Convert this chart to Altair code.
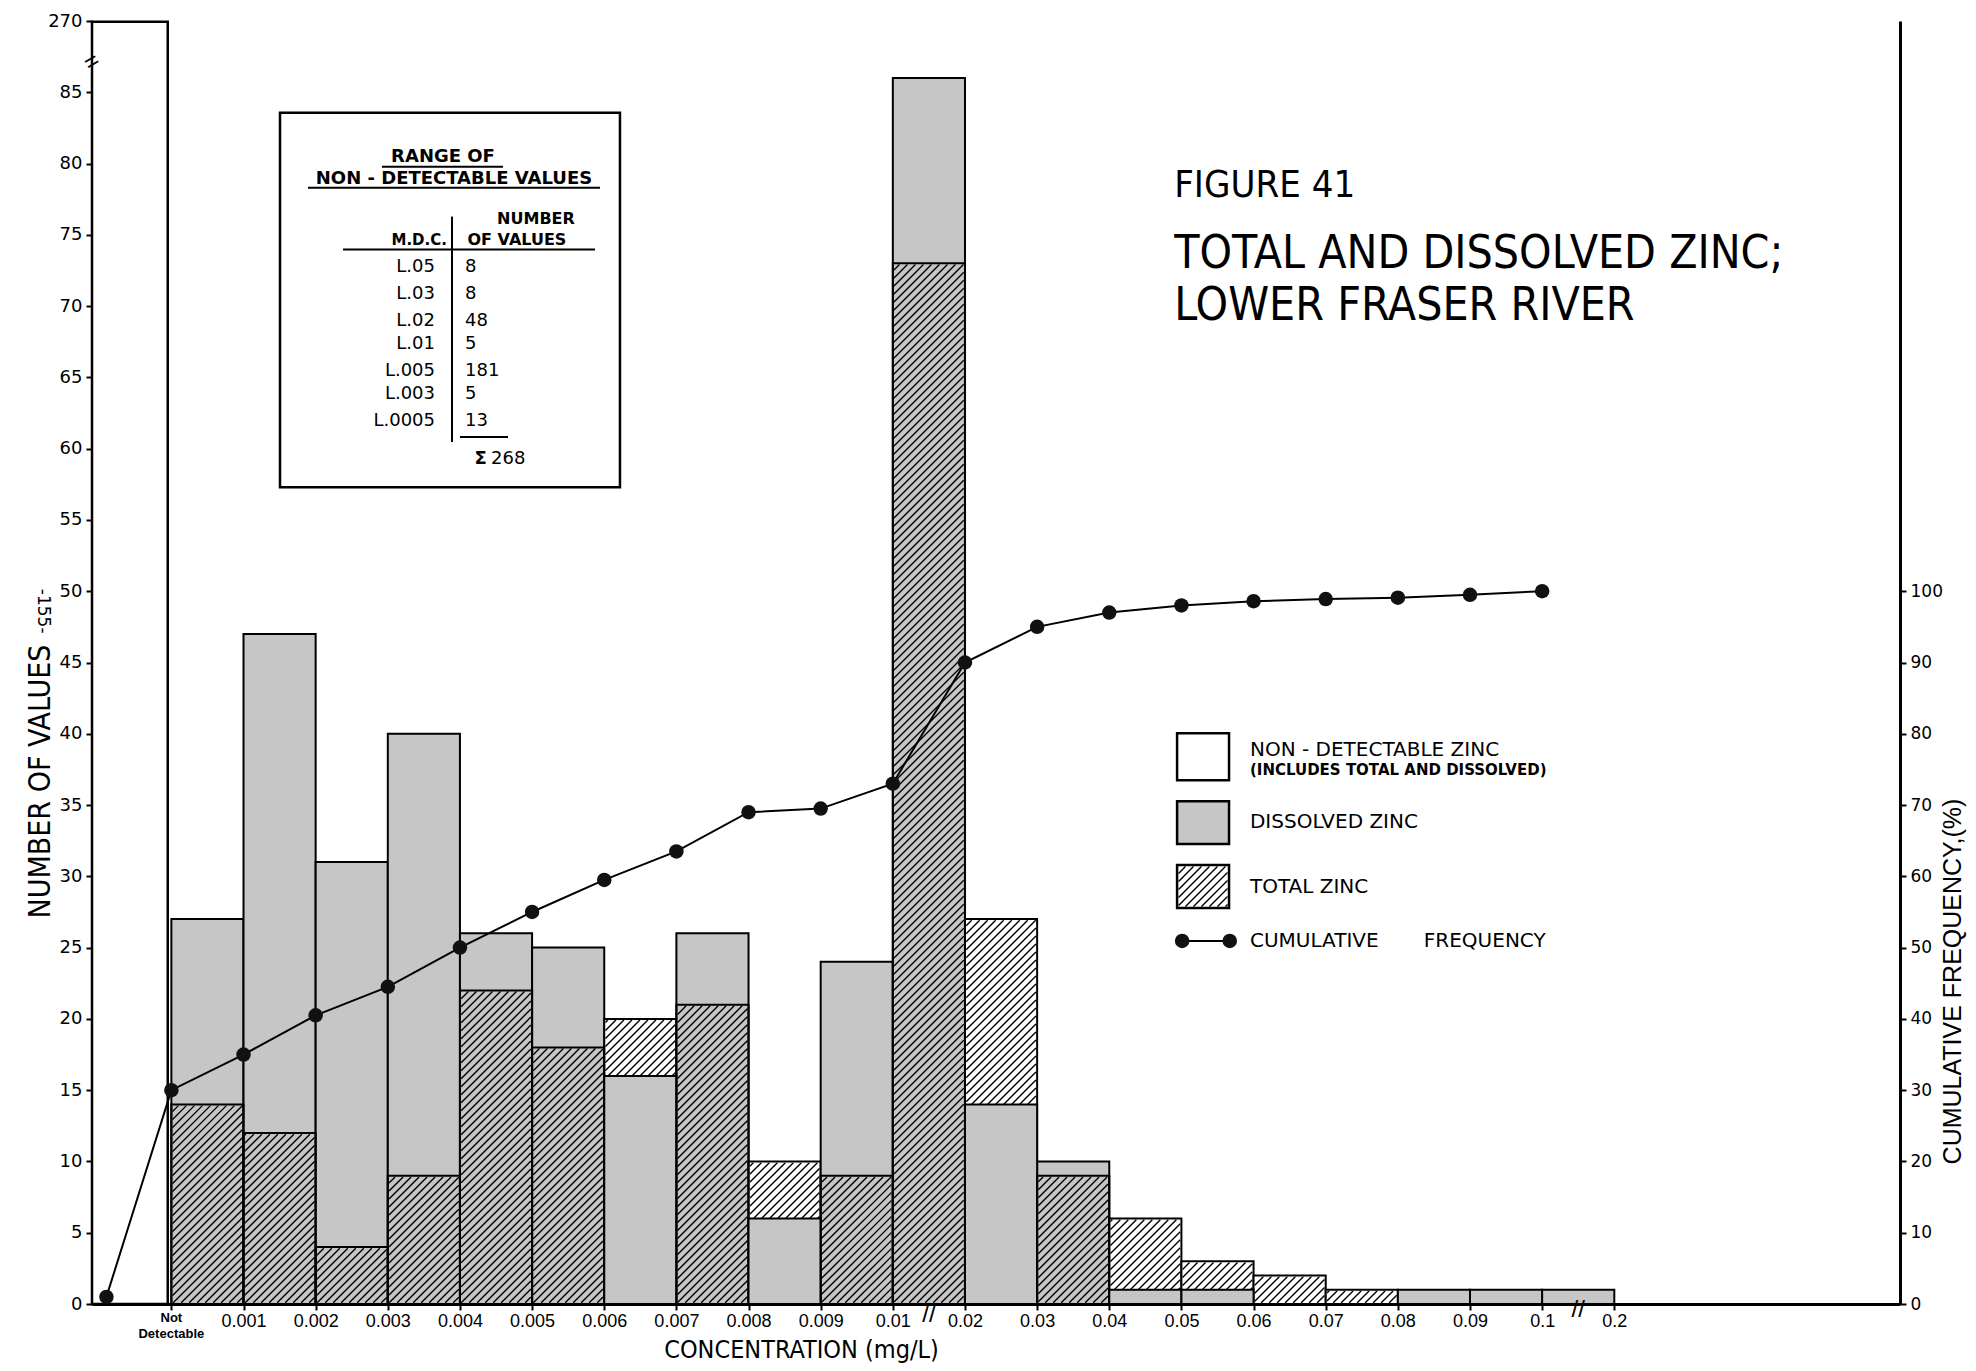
import altair as alt
import pandas as pd
import numpy as np

# ---------------- data ----------------
tick_labels = ["Not Detectable", "0.001", "0.002", "0.003", "0.004", "0.005", "0.006",
               "0.007", "0.008", "0.009", "0.01", "0.02", "0.03", "0.04", "0.05", "0.06",
               "0.07", "0.08", "0.09", "0.1", "0.2"]
dissolved = [27, 47, 31, 40, 26, 25, 16, 26, 6, 24, 86, 14, 10, 1, 1, 0, 0, 1, 1, 1]
total = [14, 12, 4, 9, 22, 18, 20, 21, 10, 9, 73, 27, 9, 6, 3, 2, 1, 0, 0, 0]
nd_count = 268
cum_pos = [-0.9, 0, 1, 2, 3, 4, 5, 6, 7, 8, 9, 10, 11, 12, 13, 14, 15, 16, 17, 18, 19]
cum_pct = [1, 30, 35, 40.5, 44.5, 50, 55, 59.5, 63.5, 69, 69.5, 73, 90, 95, 97, 98,
           98.6, 98.9, 99.1, 99.5, 100]
mdc_levels = ["L.05", "L.03", "L.02", "L.01", "L.005", "L.003", "L.0005"]
mdc_counts = [8, 8, 48, 5, 181, 5, 13]

# ---------------- layout ----------------
XMIN, XMAX = -1.1, 23.96
YTOP = 90
W, H = 1808, 1283
GREY = "#c6c6c6"
NARROW = "Liberation Sans Narrow, DejaVu Sans Condensed, Liberation Sans, sans-serif"
SANS = "Liberation Sans, Arial, sans-serif"
DJ = "DejaVu Sans, Verdana, sans-serif"

xs = alt.Scale(domain=[XMIN, XMAX], nice=False, zero=False)
ys = alt.Scale(domain=[0, YTOP], nice=False, zero=False)
yr = alt.Scale(domain=[0, 2 * YTOP], nice=False, zero=False)

sx = W / (XMAX - XMIN)
sy = H / YTOP
SP = 8.0


def hatch(x0, x1, y0, y1, inset=1.2):
    X0 = (x0 - XMIN) * sx + inset
    X1 = (x1 - XMIN) * sx - inset
    Y0 = y0 * sy + inset
    Y1 = y1 * sy - inset
    segs = []
    kmin = int(np.floor((Y0 - X1) / SP))
    kmax = int(np.ceil((Y1 - X0) / SP))
    for k in range(kmin, kmax + 1):
        c = k * SP
        xa = max(X0, Y0 - c)
        xb = min(X1, Y1 - c)
        if xb - xa > 0.8:
            segs.append(dict(x=xa / sx + XMIN, y=(xa + c) / sy,
                             x2=xb / sx + XMIN, y2=(xb + c) / sy))
    return segs


# bar table
rows = []
for k, (d, t) in enumerate(zip(dissolved, total)):
    for kind, v, other in (("dissolved", d, t), ("total", t, d)):
        if v <= 0:
            continue
        front = v < other or (v == other and kind == "total")
        rows.append(dict(x0=k, x1=k + 1, v=v, kind=kind, front=front))
bars = pd.DataFrame(rows)

hatch_back, hatch_front = [], []
for r in rows:
    if r["kind"] == "total":
        (hatch_front if r["front"] else hatch_back).extend(hatch(r["x0"], r["x1"], 0, r["v"]))

x_axis = alt.Axis(
    values=list(range(len(tick_labels))),
    labelExpr="[" + ",".join("'" + ("" if i == 0 else s) + "'" for i, s in enumerate(tick_labels)) + "][datum.value]",
    title="CONCENTRATION (mg/L)", titleX=709, titleY=45, titleAlign="center", titleBaseline="middle",
    titleFont=NARROW, titleFontSize=25, titleFontWeight="normal", titleColor="black",
    labelFont=SANS, labelFontSize=18, labelColor="black", labelPadding=2,
    tickSize=6, tickWidth=2, tickColor="black", domainColor="black", domainWidth=3,
    grid=False, labelOverlap=False, labelFlush=False, labelBound=False)


def X(f, **kw):
    return alt.X(f, type="quantitative", scale=xs, axis=x_axis, **kw)


def Y(f, **kw):
    return alt.Y(f, type="quantitative", scale=ys, axis=None, **kw)


y_axis = alt.Axis(
    values=list(range(0, 90, 5)) + [90],
    labelExpr="datum.value == 90 ? '270' : datum.label",
    title="NUMBER OF VALUES", titleAngle=270, titleX=-52, titleY=760, titleAlign="center",
    titleBaseline="middle", titleFont=NARROW, titleFontSize=30, titleFontWeight="normal",
    titleColor="black", labelFont=DJ, labelFontSize=18, labelColor="black", labelPadding=4,
    tickSize=6, tickWidth=2, tickColor="black", domainColor="black", domainWidth=3,
    grid=False, labelFlush=False, labelOverlap=False)

r_axis = alt.Axis(
    orient="right", values=list(range(0, 101, 10)),
    title="CUMULATIVE FREQUENCY,(%)", titleAngle=270, titleX=52, titleY=960, titleAlign="center",
    titleBaseline="middle", titleFont=SANS, titleFontSize=25, titleFontWeight="normal",
    titleColor="black", labelFont=DJ, labelFontSize=17, labelColor="black", labelPadding=4,
    tickSize=6, tickWidth=2, tickColor="black", domainColor="black", domainWidth=3,
    grid=False, labelFlush=False, labelOverlap=False)

# non-detectable bar (broken scale above 85: 85 -> 85, 270 -> 90)
nd_df = pd.DataFrame({"x0": [XMIN], "x1": [-0.05], "v": [nd_count]})
nd_layer = alt.Chart(nd_df).transform_calculate(
    vd="datum.v > 85 ? 85 + (datum.v - 85) * 5 / 185 : datum.v"
).mark_rect(fill="white", stroke="black", strokeWidth=2.5).encode(
    x=X("x0"), x2="x1",
    y=alt.Y("vd:Q", scale=ys, axis=y_axis), y2=alt.datum(0))


def bar_layer(front):
    fill_else = "transparent" if front else "white"
    return alt.Chart(bars).transform_filter(
        "datum.front == " + ("true" if front else "false")
    ).mark_rect(stroke="black", strokeWidth=2).encode(
        x=X("x0"), x2="x1", y=Y("v"), y2=alt.datum(0),
        fill=alt.condition("datum.kind == 'dissolved'", alt.value(GREY), alt.value(fill_else)))


def hatch_layer(segs):
    df = pd.DataFrame(segs if segs else [dict(x=0, y=0, x2=0, y2=0)])
    return alt.Chart(df).mark_rule(color="black", strokeWidth=1.4).encode(
        x=X("x"), y=Y("y"), x2="x2", y2="y2")


cum_df = pd.DataFrame({"x": cum_pos, "pct": cum_pct})
cum_line = alt.Chart(cum_df).mark_line(color="black", strokeWidth=2).encode(
    x=X("x"), y=alt.Y("pct:Q", scale=yr, axis=r_axis))
cum_pts = alt.Chart(cum_df).mark_point(filled=True, color="#111111", size=210, opacity=1).encode(
    x=X("x"), y=alt.Y("pct:Q", scale=yr, axis=None))


def texts(rows_, font, align="left", baseline="middle", weight="normal", angle=0, **kw):
    df = pd.DataFrame(rows_, columns=["x", "y", "t", "fs"])
    return alt.Chart(df).mark_text(font=font, align=align, baseline=baseline, fontWeight=weight,
                                   angle=angle, color="black", **kw).encode(
        x=X("x"), y=Y("y"), text="t:N", size=alt.Size("fs:Q", scale=None, legend=None))


# titles
title_layer = texts([(13.90, 78.4, "FIGURE 41", 38),
                     (13.90, 73.65, "TOTAL AND DISSOLVED ZINC;", 46),
                     (13.90, 70.0, "LOWER FRASER RIVER", 46)], NARROW)

# legend
leg_boxes = pd.DataFrame({
    "x0": [13.94, 13.94, 13.94], "x1": [14.66, 14.66, 14.66],
    "y0": [36.74, 32.26, 27.78], "y1": [40.03, 35.27, 30.79],
    "kind": ["nd", "dissolved", "total"]})
leg_box_layer = alt.Chart(leg_boxes).mark_rect(stroke="black", strokeWidth=2.5).encode(
    x=X("x0"), x2="x1", y=Y("y0"), y2="y1",
    fill=alt.condition("datum.kind == 'dissolved'", alt.value(GREY), alt.value("white")))
leg_hatch = hatch_layer(hatch(13.94, 14.66, 27.78, 30.79, inset=1.5))
leg_line_df = pd.DataFrame({"x": [14.01, 14.67], "y": [25.47, 25.47]})
leg_line = alt.Chart(leg_line_df).mark_line(color="black", strokeWidth=2).encode(x=X("x"), y=Y("y"))
leg_pts = alt.Chart(leg_line_df).mark_point(filled=True, color="#111111", size=210, opacity=1).encode(
    x=X("x"), y=Y("y"))
leg_text = texts([(14.95, 38.85, "NON - DETECTABLE  ZINC", 20),
                  (14.95, 33.80, "DISSOLVED  ZINC", 20),
                  (14.95, 29.25, "TOTAL  ZINC", 20),
                  (14.95, 25.47, "CUMULATIVE", 20),
                  (17.36, 25.47, "FREQUENCY", 20)], DJ)
leg_text2 = texts([(14.95, 37.45, "(INCLUDES  TOTAL  AND  DISSOLVED)", 15)], DJ, weight="bold")

# table of non-detectable ranges
table_box = alt.Chart(pd.DataFrame({"x0": [1.506], "x1": [6.218], "y0": [57.3], "y1": [83.56]})).mark_rect(
    fill="white", stroke="black", strokeWidth=2.5).encode(x=X("x0"), x2="x1", y=Y("y0"), y2="y1")
table_rules = alt.Chart(pd.DataFrame({
    "x": [2.919, 1.894, 2.379, 3.890, 4.000],
    "x2": [4.596, 5.941, 5.872, 3.890, 4.666],
    "y": [79.78, 78.31, 73.97, 76.28, 60.82],
    "y2": [79.78, 78.31, 73.97, 60.47, 60.82]})).mark_rule(color="black", strokeWidth=2).encode(
    x=X("x"), x2="x2", y=Y("y"), y2="y2")
row_y = [72.71, 70.82, 68.93, 67.32, 65.43, 63.82, 61.94]
table_head = texts([(3.765, 80.48, "RANGE  OF", 18),
                    (3.917, 78.94, "NON - DETECTABLE  VALUES", 18)], DJ, align="center", weight="bold")
table_head2 = texts([(5.054, 76.14, "NUMBER", 16),
                     (4.79, 74.67, "OF VALUES", 16)], DJ, align="center", weight="bold")
table_head3 = texts([(3.82, 74.67, "M.D.C.", 15)], DJ, align="right", weight="bold")
table_lv = texts([(3.654, yy, lv, 18) for yy, lv in zip(row_y, mdc_levels)], DJ, align="right")
table_ct = texts([(4.07, yy, str(c), 18) for yy, c in zip(row_y, mdc_counts)] +
                 [(4.43, 59.28, str(sum(mdc_counts)), 18)], DJ, align="left")
table_sig = texts([(4.2, 59.28, "Σ", 18)], DJ, align="left", weight="bold")

# axis decorations
nd_label = alt.Chart(pd.DataFrame({"x": [0], "y": [-0.55], "t": [tick_labels[0]]})).mark_text(
    font=SANS, fontSize=13, fontWeight="bold", align="center", baseline="top",
    lineBreak=" ", lineHeight=16, color="black").encode(x=X("x"), y=Y("y"), text="t:N")
breaks_x = texts([(10.5, -0.75, "//", 24), (19.5, -0.45, "//", 24)], SANS, align="center")
breaks_y = texts([(XMIN, 87.1, "=", 24)], SANS, align="center", angle=330)
page_no = texts([(-1.78, 48.6, "-155-", 17)], DJ, align="center", angle=90)

chart = alt.layer(
    nd_layer,
    bar_layer(False), hatch_layer(hatch_back),
    bar_layer(True), hatch_layer(hatch_front),
    cum_line, cum_pts,
    title_layer,
    leg_box_layer, leg_hatch, leg_line, leg_pts, leg_text, leg_text2,
    table_box, table_rules, table_head, table_head2, table_head3, table_lv, table_ct, table_sig,
    nd_label, breaks_x, breaks_y, page_no,
).resolve_scale(y="independent").properties(
    width=W, height=H,
    padding={"left": 84, "top": 13, "right": 68, "bottom": 59},
    autosize=alt.AutoSizeParams(type="none"),
    background="white",
).configure_view(stroke=None)

chart.save("out.html", embed_options={"renderer": "svg", "actions": False})
